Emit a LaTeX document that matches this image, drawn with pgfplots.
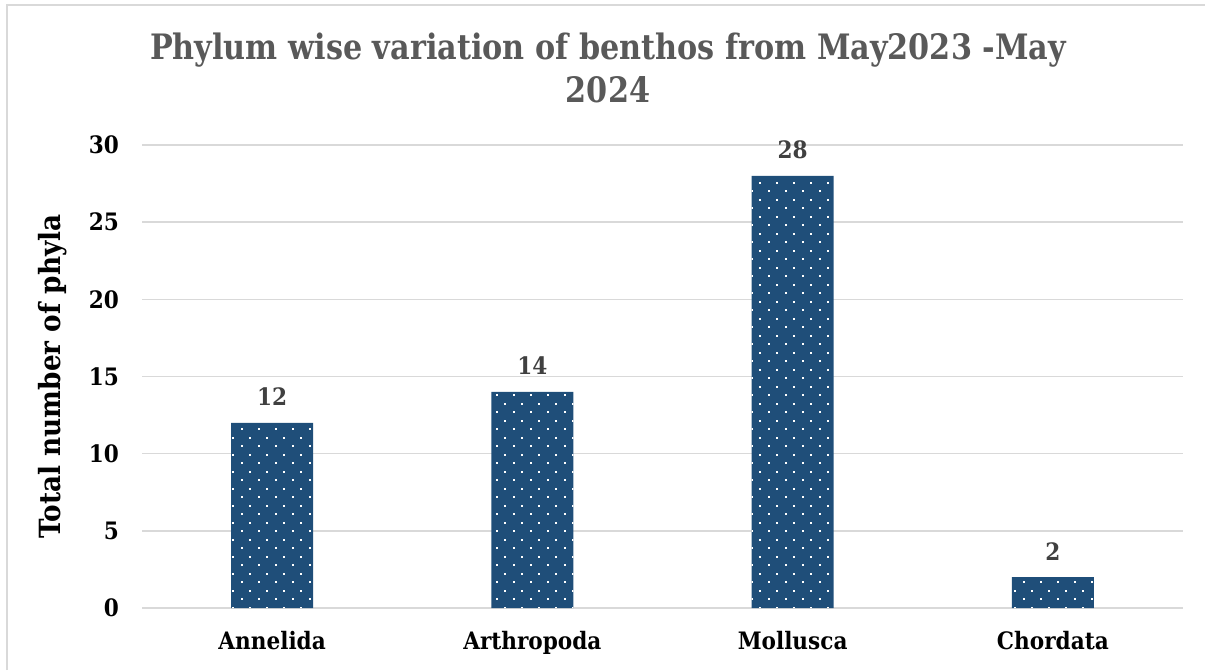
\documentclass[border=0pt]{standalone}
\usepackage{fontspec}
\setmainfont{DejaVu Serif}[FakeStretch=0.9]
\newfontfamily\titlefont{DejaVu Serif}[FakeStretch=0.865]
\usepackage{graphicx}
\usepackage{pgfplots}
\pgfplotsset{compat=1.18}
\usetikzlibrary{patterns.meta}
\definecolor{barblue}{HTML}{1F4E79}
\definecolor{gridgray}{HTML}{D9D9D9}
\definecolor{titlegray}{HTML}{595959}
\definecolor{labelgray}{HTML}{404040}
\tikzdeclarepattern{
  name=wdots,
  type=uncolored,
  bounding box={(0pt,0pt) and (8.5pt,8.5pt)},
  tile size={(8.5pt,8.5pt)},
  code={
    \fill (1.6pt,1.6pt) rectangle (2.6pt,2.6pt);
    \fill (5.85pt,5.85pt) rectangle (6.85pt,6.85pt);
  }
}
\begin{document}
\begin{tikzpicture}
\path[use as bounding box] (0,0) rectangle (602.5pt,335pt);
\draw[gridgray, line width=0.6pt] (3.5pt,0pt) -- (3.5pt,332.5pt) -- (602.5pt,332.5pt);
\begin{axis}[
  at={(71pt,31pt)}, anchor=south west,
  scale only axis, width=520.5pt, height=231.5pt,
  xmin=-0.5, xmax=3.5, ymin=0, ymax=30,
  ytick={0,5,...,30},
  xtick={0,1,2,3},
  xticklabels={Annelida,Arthropoda,Mollusca,Chordata},
  axis line style={draw=none},
  major tick length=0pt,
  ymajorgrids, grid style={gridgray, line width=0.75pt},
  /pgf/number format/assume math mode=true,
  ticklabel style={font=\bfseries\fontsize{12}{14}\selectfont, text=black},
  yticklabel style={xshift=-8pt},
  xticklabel style={yshift=-8pt},
  every axis y label/.style={at={(axis description cs:-0.0855,0.5)}, anchor=center, rotate=90, font=\bfseries\fontsize{14.6}{16}\selectfont},
  ylabel={Total number of phyla},
  ybar, bar width=41pt,
  nodes near coords,
  every node near coord/.append style={font=\bfseries\fontsize{12}{14}\selectfont, text=labelgray, anchor=south, yshift=5pt},
]
\addplot[draw=none, fill=barblue, postaction={pattern=wdots, pattern color=white}] coordinates {(0,12) (1,14) (2,28) (3,2)};
\end{axis}
\node[anchor=base, font=\titlefont\bfseries\fontsize{17.5}{20}\selectfont, text=titlegray] at (304pt,305pt) {Phylum wise variation of benthos from May2023 -May};
\node[anchor=base, font=\titlefont\bfseries\fontsize{17.5}{20}\selectfont, text=titlegray] at (304pt,283.5pt) {2024};
\end{tikzpicture}
\end{document}
